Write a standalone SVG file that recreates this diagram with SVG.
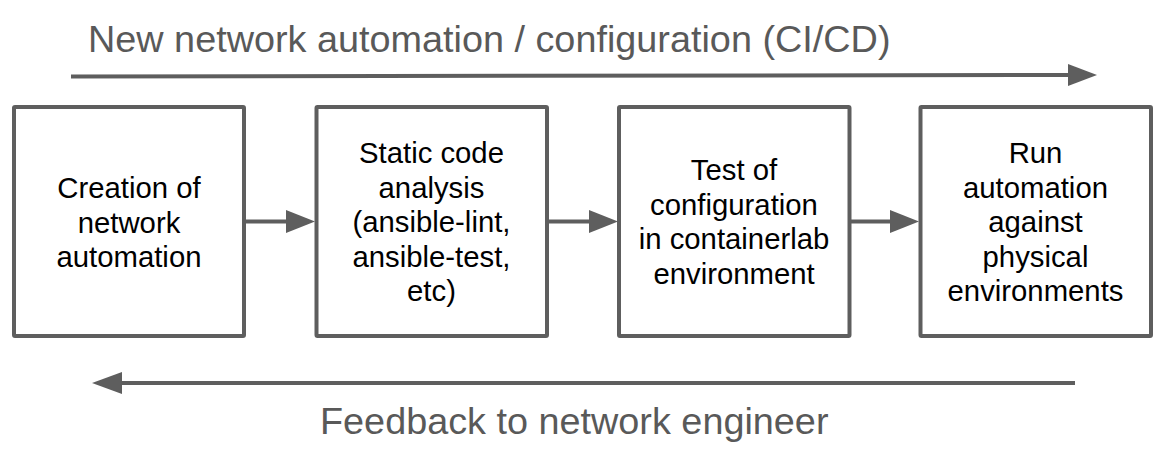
<svg xmlns="http://www.w3.org/2000/svg" width="1166" height="454" viewBox="0 0 1166 454">
<style>
.box{fill:#ffffff;stroke:#5e5e5e;stroke-width:4;}
.lbl{font-family:"Liberation Sans",Arial,sans-serif;font-size:29.3px;fill:#000000;text-anchor:middle;}
.title{font-family:"Liberation Sans",Arial,sans-serif;font-size:37.8px;fill:#595959;}
.conn{stroke:#5e5e5e;stroke-width:4;fill:none;}
.head{fill:#5e5e5e;stroke:none;}
</style>
<rect width="1166" height="454" fill="#ffffff"/>
<text class="title" x="88" y="52">New network automation / configuration (CI/CD)</text>
<text class="title" x="320" y="434">Feedback to network engineer</text>
<g id="connectors">
<line class="conn" x1="71" y1="76.5" x2="1070" y2="75"/>
<polygon class="head" points="1068,64 1097,75 1068,86"/>
<line class="conn" x1="1075" y1="383" x2="119" y2="383"/>
<polygon class="head" points="122,372 92,383 122,394"/>
<line class="conn" x1="245" y1="221.5" x2="288" y2="221.5"/>
<polygon class="head" points="286,210 315,221.5 286,233"/>
<line class="conn" x1="548" y1="221.5" x2="591" y2="221.5"/>
<polygon class="head" points="589,210 618,221.5 589,233"/>
<line class="conn" x1="851" y1="221.5" x2="892" y2="221.5"/>
<polygon class="head" points="890,210 919,221.5 890,233"/>
</g>
<g id="node1">
<rect class="box" x="14" y="107" width="230" height="229" rx="1"/>
<text class="lbl" x="129" y="198">Creation of</text>
<text class="lbl" x="129" y="232.5">network</text>
<text class="lbl" x="129" y="267">automation</text>
</g>
<g id="node2">
<rect class="box" x="316.5" y="107" width="230.5" height="229" rx="1"/>
<text class="lbl" x="431.5" y="163">Static code</text>
<text class="lbl" x="431.5" y="197.5">analysis</text>
<text class="lbl" x="431.5" y="232">(ansible-lint,</text>
<text class="lbl" x="431.5" y="266.5">ansible-test,</text>
<text class="lbl" x="431.5" y="301">etc)</text>
</g>
<g id="node3">
<rect class="box" x="619" y="107" width="230.5" height="229" rx="1"/>
<text class="lbl" x="734" y="180">Test of</text>
<text class="lbl" x="734" y="214.5">configuration</text>
<text class="lbl" x="734" y="249">in containerlab</text>
<text class="lbl" x="734" y="283.5">environment</text>
</g>
<g id="node4">
<rect class="box" x="920.5" y="107" width="230.5" height="229" rx="1"/>
<text class="lbl" x="1035.5" y="163">Run</text>
<text class="lbl" x="1035.5" y="197.5">automation</text>
<text class="lbl" x="1035.5" y="232">against</text>
<text class="lbl" x="1035.5" y="266.5">physical</text>
<text class="lbl" x="1035.5" y="301">environments</text>
</g>
</svg>
